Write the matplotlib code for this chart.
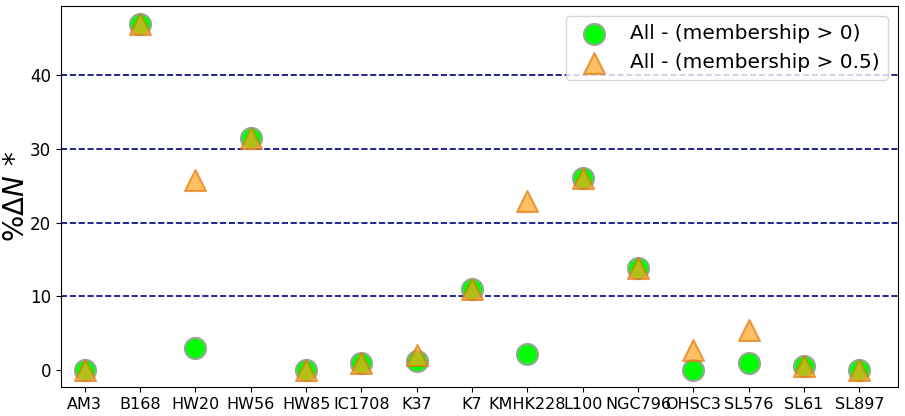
import matplotlib
matplotlib.use("Agg")
import matplotlib.pyplot as plt

clusters = ["AM3", "B168", "HW20", "HW56", "HW85", "IC1708", "K37", "K7",
            "KMHK228", "L100", "NGC796", "OHSC3", "SL576", "SL61", "SL897"]
memb_gt0 = [0.0, 47.0, 3.0, 31.5, 0.0, 0.9, 1.2, 11.0, 2.2, 26.0, 13.8, 0.0, 1.0, 0.6, 0.0]
memb_gt05 = [0.0, 47.0, 25.8, 31.5, 0.0, 0.9, 2.1, 11.0, 22.9, 26.0, 13.8, 2.7, 5.4, 0.6, 0.0]
grid_levels = [10, 20, 30, 40]

fig = plt.figure(figsize=(9.05, 4.16), dpi=100)
ax = fig.add_axes([61/905, 1 - 387/416, (898-61)/905, (387-6)/416])

x = list(range(len(clusters)))
ax.scatter(x, memb_gt0, s=230, c="#00ff00", edgecolors="#9aa59a", linewidths=1.5,
           label="All - (membership > 0)", zorder=3)
ax.scatter(x, memb_gt05, s=230, marker="^", c="#ffa520", alpha=0.7,
           edgecolors="#e07a10", linewidths=1.5,
           label="All - (membership > 0.5)", zorder=4)

for lv in grid_levels:
    ax.axhline(lv, color="navy", linestyle="--", linewidth=1.2, zorder=1)

ax.set_xticks(x)
ax.set_xticklabels(clusters, fontsize=11.5)
ax.set_yticks([0, 10, 20, 30, 40])
ax.tick_params(axis="y", labelsize=12)
ax.set_xlim(-0.43, 14.7)
ax.set_ylim(-2.3, 49.4)
ax.set_ylabel(r"$\%\Delta N\,*$", fontsize=20)
ax.yaxis.set_label_coords(-0.037, 0.5)

ax.legend(loc="upper right", fontsize=14.5, handletextpad=0.8, borderaxespad=0.5,
          borderpad=0.4)

fig.savefig("out.png", dpi=100)
